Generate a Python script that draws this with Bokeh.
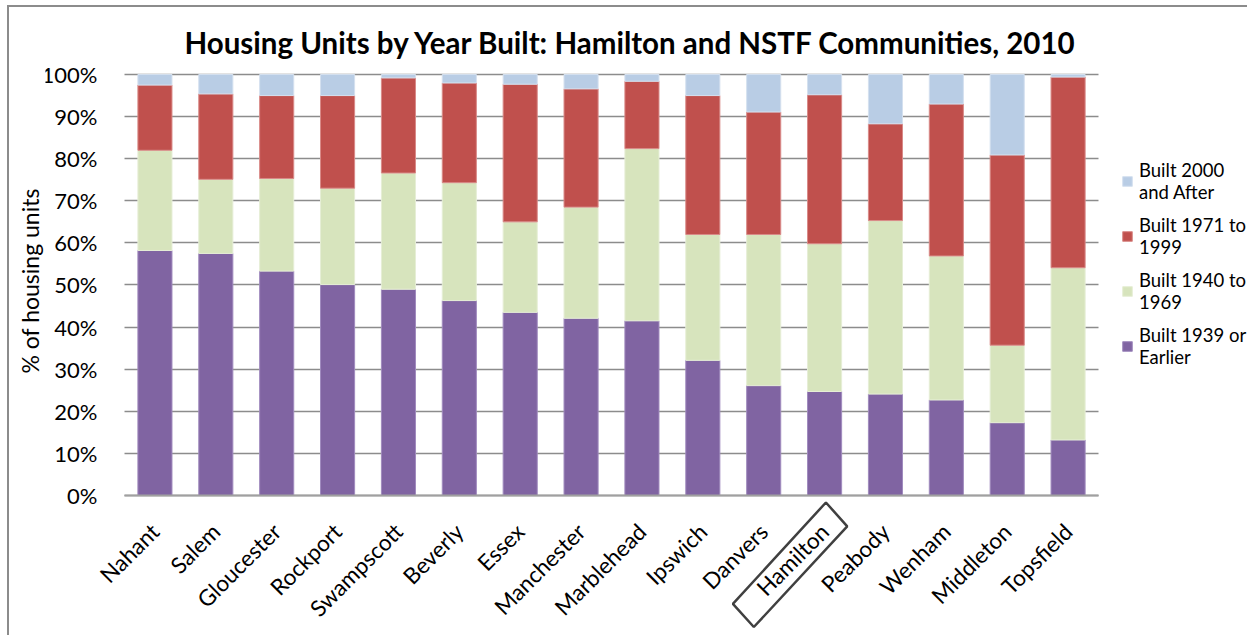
from bokeh.plotting import figure
from bokeh.models import (Range1d, FixedTicker, NumeralTickFormatter,
                          Legend, LegendItem, PolyAnnotation, Title, LinearAxis)
from bokeh.embed import file_html
from bokeh.resources import INLINE
import math

towns = ["Nahant", "Salem", "Gloucester", "Rockport", "Swampscott", "Beverly", "Essex",
         "Manchester", "Marblehead", "Ipswich", "Danvers", "Hamilton", "Peabody",
         "Wenham", "Middleton", "Topsfield"]

built_1939_or_earlier = [58.2, 57.5, 53.3, 50.1, 49.0, 46.3, 43.5, 42.1, 41.5, 32.1, 26.1, 24.7, 24.1, 22.7, 17.3, 13.2]
built_1940_to_1969    = [23.8, 17.6, 22.0, 22.9, 27.6, 28.0, 21.5, 26.4, 40.9, 29.9, 35.9, 35.1, 41.2, 34.2, 18.4, 40.9]
built_1971_to_1999    = [15.5, 20.3, 19.7, 22.0, 22.6, 23.7, 32.7, 28.1, 16.0, 33.0, 29.1, 35.4, 23.0, 36.1, 45.2, 45.3]
built_2000_and_after  = [2.5, 4.6, 5.0, 5.0, 0.8, 2.0, 2.3, 3.4, 1.6, 5.0, 8.9, 4.8, 11.7, 7.0, 19.1, 0.6]

series_keys = ["b1939", "b1940", "b1971", "b2000"]
series_labels = ["Built 1939 or\nEarlier", "Built 1940 to\n1969", "Built 1971 to\n1999", "Built 2000\nand After"]
colors = ["#8064A2", "#D7E4BD", "#C0504D", "#B9CDE5"]
edge_colors = ["#A08BBE", "#E6EED6", "#D98A88", "#D4E0EF"]

y_ticks = [0, 10, 20, 30, 40, 50, 60, 70, 80, 90, 100]
highlighted = "Hamilton"

FONT = "Lato"

pos = list(range(len(towns)))
data = {"pos": pos, "town": towns,
        "b1939": [v / 100 for v in built_1939_or_earlier],
        "b1940": [v / 100 for v in built_1940_to_1969],
        "b1971": [v / 100 for v in built_1971_to_1999],
        "b2000": [v / 100 for v in built_2000_and_after]}

W, H = 1240, 630
n = len(towns)
# plot frame spans the label/legend areas; bars occupy x in [-0.5, n-0.5], y in [0, 1]
p = figure(width=W, height=H, output_backend="svg", toolbar_location=None,
           x_range=Range1d(-1.7977, 17.98), y_range=Range1d(-0.3373, 1.0285),
           x_axis_location=None,
           min_border_left=36, min_border_right=0, min_border_top=55, min_border_bottom=0)
p.styles = {"margin-left": "7px", "margin-top": "5px",
            "border-left": "2px solid #8C8C8C", "border-top": "2px solid #8C8C8C"}
p.outline_line_color = None
p.background_fill_color = "white"
p.border_fill_color = "white"

renderers = p.vbar_stack(series_keys, x="pos", width=0.56, source=data,
                         fill_color=colors, line_color=edge_colors, line_width=1)

p.title = Title(text="Housing Units by Year Built: Hamilton and NSTF Communities, 2010",
                text_font=FONT, text_font_size="29.5px", text_font_style="bold",
                align="left", offset=139, standoff=6, text_color="black")

p.add_layout(Title(text="% of housing units", text_font=FONT, text_font_size="23px",
                   text_font_style="normal", align="left", offset=264, standoff=4,
                   text_color="black"),
             "left")

yaxis = p.yaxis[0]
yaxis.fixed_location = -0.5
yaxis.ticker = FixedTicker(ticks=[t / 100 for t in y_ticks])
yaxis.formatter = NumeralTickFormatter(format="0%")
yaxis.axis_line_color = None
yaxis.major_tick_line_color = None
yaxis.major_tick_out = 0
yaxis.major_tick_in = 0
yaxis.minor_tick_line_color = None
yaxis.major_label_text_font = FONT
yaxis.major_label_text_font_size = "22px"
yaxis.major_label_text_color = "black"
yaxis.major_label_standoff = 27

xaxis = LinearAxis(fixed_location=0, bounds=(-0.5, n - 0.5))
xaxis.ticker = FixedTicker(ticks=pos)
xaxis.major_label_overrides = {i: t for i, t in enumerate(towns)}
xaxis.axis_line_color = "#A0A0A0"
xaxis.axis_line_width = 2
xaxis.major_tick_line_color = None
xaxis.major_tick_out = 0
xaxis.major_tick_in = 0
xaxis.minor_tick_line_color = None
xaxis.major_label_orientation = math.pi / 4
xaxis.major_label_text_font = FONT
xaxis.major_label_text_font_size = "22.5px"
xaxis.major_label_text_color = "black"
xaxis.major_label_standoff = 32
p.add_layout(xaxis, "below")

for g in p.xgrid:
    g.visible = False
p.ygrid.grid_line_color = "#8C8C8C"
p.ygrid.grid_line_width = 1.5
p.ygrid.cross_bounds = (-0.5, n - 0.5)

items = [LegendItem(label=series_labels[i], renderers=[renderers[i]]) for i in [3, 2, 1, 0]]
legend = Legend(items=items, location=(1076, 269), padding=0, margin=0,
                border_line_color=None, background_fill_alpha=0,
                glyph_width=12, glyph_height=12, label_standoff=6, spacing=11,
                label_text_font=FONT, label_text_font_size="18.5px",
                label_text_color="black")
p.add_layout(legend, "center")

# box around the highlighted town's label (data units: bar position, fraction)
hx = towns.index(highlighted)
box_dx = [0.022, 0.372, -1.162, -1.506]
box_y = [-0.0166, -0.0732, -0.3124, -0.2575]
p.add_layout(PolyAnnotation(xs=[hx + d for d in box_dx], ys=box_y,
                            fill_alpha=0, line_color="#404040", line_alpha=1, line_width=2.5))

open("out.html", "w").write(file_html(p, INLINE))
